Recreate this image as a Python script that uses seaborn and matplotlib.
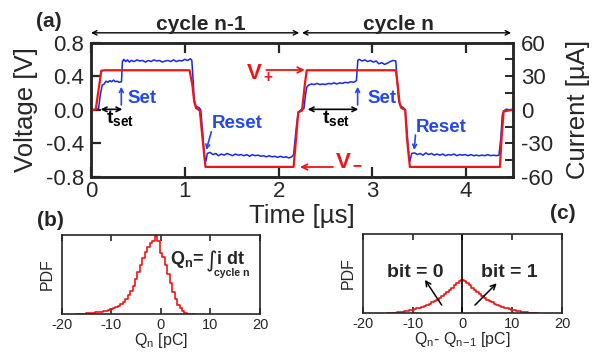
import numpy as np
import pandas as pd
import matplotlib
matplotlib.use('Agg')
import matplotlib.pyplot as plt
import seaborn as sns

# ---- panel (a): measured voltage (red, V) and current (blue, uA) vs time (us)
t_volt = [0.0, 0.05, 0.11, 0.15, 1.05, 1.08, 1.10, 1.12, 1.16, 1.19, 1.22,
          2.16, 2.19, 2.21, 2.25, 2.28, 2.30, 3.25, 3.27, 3.29, 3.31, 3.35,
          3.37, 3.40, 4.36, 4.38, 4.40, 4.50]
volt = [0.0, 0.0, 0.465, 0.47, 0.47, 0.30, 0.10, 0.02, -0.01, -0.35, -0.68,
        -0.68, -0.30, -0.03, -0.01, 0.30, 0.47, 0.47, 0.30, 0.08, 0.02, 0.0,
        -0.35, -0.68, -0.68, -0.30, -0.02, 0.0]

t_curr = [0.0, 0.03, 0.06, 0.08, 0.10, 0.12, 0.14, 0.16, 0.18, 0.20, 0.22,
          0.24, 0.26, 0.28, 0.30, 0.325, 0.335, 0.35, 0.37, 0.39, 0.41, 0.43,
          0.46, 0.49, 0.52, 0.55, 0.58, 0.61, 0.64, 0.67, 0.70, 0.73, 0.76,
          0.79, 0.82, 0.85, 0.88, 0.91, 0.94, 0.97, 1.00, 1.03, 1.06, 1.075,
          1.09, 1.10, 1.12, 1.15, 1.17, 1.19, 1.21, 1.225, 1.24, 1.27, 1.30,
          1.33, 1.36, 1.39, 1.42, 1.45, 1.48, 1.51, 1.54, 1.57, 1.60, 1.63,
          1.66, 1.69, 1.72, 1.75, 1.78, 1.81, 1.84, 1.87, 1.90, 1.93, 1.96,
          1.99, 2.02, 2.05, 2.08, 2.11, 2.14, 2.16, 2.19, 2.21, 2.24, 2.27,
          2.285, 2.30, 2.32, 2.35, 2.38, 2.41, 2.44, 2.47, 2.50, 2.53, 2.56,
          2.59, 2.62, 2.65, 2.68, 2.71, 2.74, 2.77, 2.80, 2.83, 2.845, 2.86,
          2.89, 2.92, 2.95, 2.98, 3.01, 3.04, 3.07, 3.10, 3.13, 3.16, 3.19,
          3.22, 3.25, 3.265, 3.28, 3.30, 3.33, 3.35, 3.37, 3.39, 3.40, 3.42,
          3.45, 3.48, 3.51, 3.54, 3.57, 3.60, 3.63, 3.66, 3.69, 3.72, 3.75,
          3.78, 3.81, 3.84, 3.87, 3.90, 3.93, 3.96, 3.99, 4.02, 4.05, 4.08,
          4.11, 4.14, 4.17, 4.20, 4.23, 4.26, 4.29, 4.32, 4.35, 4.37, 4.385,
          4.40, 4.43, 4.46, 4.50]
curr = [0.5, -0.5, 0.5, 1.0, 14, 22, 23, 25.5, 24.5, 26, 25,
        26.5, 25, 25.5, 24.5, 25, 43, 45, 43, 44.5, 42.5, 44,
        43, 44.5, 43.5, 44, 42.5, 44, 43, 44.5, 43.5, 44, 42.5,
        43.5, 44, 43, 44.5, 43, 44, 43.5, 45, 44, 45.5, 44,
        25, 9, 3, 2, 0, -20, -42, -46, -39, -38, -40,
        -39, -41, -39.5, -40.5, -39, -40, -41, -39.5, -40.5, -40, -41,
        -40, -41.5, -40, -41, -40.5, -41.5, -41, -42, -41, -42, -41.5,
        -42.5, -41.5, -42.5, -42, -43, -42, -40, -15, -2, 0, 1,
        12, 20, 22, 23, 22.5, 23.5, 22.5, 23, 22.5, 23.5, 23,
        24, 23, 24, 23.5, 24.5, 24, 25, 24.5, 26, 44, 45,
        43.5, 44.5, 43, 44, 42.5, 43.5, 41, 42, 40.5, 41.5, 43,
        44, 43.5, 25, 9, 3, 2, 0, -20, -42, -46, -39,
        -38.5, -40, -39, -40.5, -38.5, -40, -39, -40.5, -39.5, -40.5, -39.5,
        -41, -40, -40.5, -39.5, -41, -40, -40.5, -40, -41, -40, -41,
        -40.5, -41, -40.5, -41, -40, -41, -40.5, -41, -40.5, -25, -5,
        -1, 0.5, 0, 0.5]

# ---- panel (b): distribution of Q_n (relative PDF, bin centres in pC)
q_b = [-17.0, -16.5, -16.0, -15.5, -15.0, -14.5, -14.0, -13.5, -13.0, -12.5,
       -12.0, -11.5, -11.0, -10.5, -10.0, -9.5, -9.0, -8.5, -8.0, -7.5,
       -7.0, -6.5, -6.0, -5.5, -5.0, -4.5, -4.0, -3.5, -3.0, -2.5,
       -2.0, -1.5, -1.0, -0.5, 0.0, 0.5, 1.0, 1.5, 2.0, 2.5,
       3.0, 3.5, 4.0, 4.5, 5.0, 5.5, 6.0, 6.5]
pdf_b = [0.000, 0.002, 0.004, 0.006, 0.008, 0.010, 0.013, 0.016, 0.020, 0.025,
         0.030, 0.036, 0.042, 0.050, 0.058, 0.070, 0.085, 0.103, 0.125, 0.155,
         0.190, 0.235, 0.290, 0.360, 0.440, 0.530, 0.620, 0.710, 0.790, 0.850,
         0.900, 0.930, 0.985, 0.930, 0.770, 0.720, 0.620, 0.500, 0.390, 0.280,
         0.190, 0.120, 0.070, 0.035, 0.015, 0.006, 0.002, 0.000]

# ---- panel (c): distribution of Q_n - Q_(n-1)
q_c = [-15.0, -14.5, -14.0, -13.5, -13.0, -12.5, -12.0, -11.5, -11.0, -10.5,
       -10.0, -9.5, -9.0, -8.5, -8.0, -7.5, -7.0, -6.5, -6.0, -5.5,
       -5.0, -4.5, -4.0, -3.5, -3.0, -2.5, -2.0, -1.5, -1.0, -0.5,
       0.0, 0.5, 1.0, 1.5, 2.0, 2.5, 3.0, 3.5, 4.0, 4.5,
       5.0, 5.5, 6.0, 6.5, 7.0, 7.5, 8.0, 8.5, 9.0, 9.5,
       10.0, 10.5, 11.0, 11.5, 12.0, 12.5, 13.0, 13.5, 14.0, 14.5, 15.0]
pdf_c = [0.001, 0.002, 0.004, 0.006, 0.009, 0.012, 0.016, 0.021, 0.027, 0.033,
         0.040, 0.048, 0.057, 0.068, 0.080, 0.093, 0.105, 0.120, 0.135, 0.150,
         0.170, 0.190, 0.210, 0.240, 0.265, 0.295, 0.320, 0.350, 0.375, 0.400,
         0.420, 0.400, 0.375, 0.350, 0.320, 0.295, 0.265, 0.240, 0.210, 0.190,
         0.170, 0.150, 0.135, 0.120, 0.105, 0.093, 0.080, 0.068, 0.057, 0.048,
         0.040, 0.033, 0.027, 0.021, 0.016, 0.012, 0.009, 0.006, 0.004, 0.002, 0.001]

time_ticks = [0, 1, 2, 3, 4]
volt_ticks = [-0.8, -0.4, 0.0, 0.4, 0.8]
volt_labels = ['-0.8', '-0.4', '0.0', '0.4', '0.8']
curr_ticks = [-60, -30, 0, 30, 60]
q_ticks = [-20, -10, 0, 10, 20]

sns.set_style('ticks')
plt.rcParams['font.family'] = ['Liberation Sans', 'DejaVu Sans']
plt.rcParams['axes.unicode_minus'] = False
plt.rcParams['mathtext.fontset'] = 'custom'
plt.rcParams['mathtext.rm'] = 'Liberation Sans'
plt.rcParams['mathtext.it'] = 'Liberation Sans:italic'
plt.rcParams['mathtext.bf'] = 'Liberation Sans:bold'
plt.rcParams['mathtext.sf'] = 'Liberation Sans'

RED = '#f01414'
BLUE = '#1428f0'
TXTBLUE = '#2448e8'

fig = plt.figure(figsize=(5.98, 3.56), dpi=100)

# ---------------- panel (a)
ax = fig.add_axes([0.1522, 0.5028, 0.7057, 0.3778])
ax2 = ax.twinx()
ax.set_zorder(ax2.get_zorder() + 1)
ax.patch.set_visible(False)

sns.lineplot(x=t_curr, y=curr, ax=ax2, color=BLUE, lw=1.1, estimator=None, sort=False)
sns.lineplot(x=t_volt, y=volt, ax=ax, color=RED, lw=1.6, estimator=None, sort=False)

ax.set_xlim(0, 4.5)
ax.set_ylim(-0.8, 0.8)
ax2.set_ylim(-60, 60)
ax.set_xticks(time_ticks)
ax.set_yticks(volt_ticks)
ax.set_yticklabels(volt_labels)
ax2.set_yticks(curr_ticks)
ax2.set_yticks([-45, -15, 15, 45], minor=True)

for a in (ax, ax2):
    for s in a.spines.values():
        s.set_linewidth(1.8)
ax.tick_params(axis='both', direction='in', length=7, width=1.6, labelsize=16,
               top=True, pad=3)
ax.tick_params(axis='y', pad=5)
ax2.tick_params(axis='y', which='major', direction='in', length=6, width=1.4,
                labelsize=16, pad=6)
ax2.tick_params(axis='y', which='minor', direction='in', length=6, width=1.4)

ax.set_xlabel('Time [µs]', fontsize=18.5)
ax.xaxis.set_label_coords(0.5, -0.2)
ax.set_ylabel('Voltage [V]', fontsize=18.5)
ax.yaxis.set_label_coords(-0.125, 0.5)
ax2.set_ylabel('Current [µA]', fontsize=18.5)
ax2.yaxis.set_label_coords(1.125, 0.5)


def arrow(a, start, end, color, style='->', lw=1.2, ms=9, coords='data'):
    a.annotate('', xy=end, xytext=start, xycoords=coords, textcoords=coords,
               arrowprops=dict(arrowstyle=style, color=color, lw=lw,
                               shrinkA=0, shrinkB=0, mutation_scale=ms),
               annotation_clip=False)


# cycle markers
arrow(ax, (0.0, 0.915), (2.22, 0.915), 'black', '<->', lw=1.0, ms=8)
arrow(ax, (2.25, 0.915), (4.48, 0.915), 'black', '<->', lw=1.0, ms=8)
ax.text(1.17, 1.015, 'cycle n-1', ha='center', va='center', fontsize=15,
        fontweight='bold', clip_on=False)
ax.text(3.28, 1.015, 'cycle n', ha='center', va='center', fontsize=15,
        fontweight='bold', clip_on=False)

# V+ / V-
ax.text(1.65, 0.378, r'$\mathbf{V_+}$', color=RED, fontsize=16, va='baseline')
arrow(ax, (1.87, 0.473), (2.28, 0.473), RED, '->', lw=1.3, ms=10)
ax.text(2.60, -0.657, r'$\mathbf{V_-}$', color=RED, fontsize=16, va='baseline')
arrow(ax, (2.58, -0.681), (2.228, -0.681), RED, '->', lw=1.3, ms=10)

# Set / Reset / t_set, cycle n-1 and n
for t_arrow, t_txt in [(0.323, 0.394), (2.843, 2.95)]:
    arrow(ax, (t_arrow, 0.057), (t_arrow, 0.274), TXTBLUE, '->', lw=1.2, ms=7)
    ax.text(t_txt, 0.08, 'Set', color=TXTBLUE, fontsize=13.5,
            fontweight='bold', va='baseline')
for (t0, t1), t_txt in [((0.103, 0.334), 0.16), ((2.31, 2.85), 2.46)]:
    arrow(ax, (t0, 0.005), (t1, 0.005), 'black', '<->', lw=1.2, ms=8)
    ax.text(t_txt, -0.163, r'$\mathbf{t_{set}}$', color='black', fontsize=14,
            va='baseline')
for (t0, v0, t1, v1), (t_txt, v_txt) in [((1.283, -0.261, 1.229, -0.479), (1.283, -0.221)),
                                         ((3.46, -0.30, 3.446, -0.479), (3.461, -0.261))]:
    arrow(ax, (t0, v0), (t1, v1), TXTBLUE, '->', lw=1.2, ms=7)
    ax.text(t_txt, v_txt, 'Reset', color=TXTBLUE, fontsize=13.5,
            fontweight='bold', va='baseline')

fig.text(0.082, 0.94, '(a)', fontsize=15, fontweight='bold', ha='center', va='center')

# ---------------- panel (b)
df_b = pd.DataFrame({'q': q_b, 'pdf': pdf_b})
axb = fig.add_axes([0.1037, 0.118, 0.331, 0.2219])
sns.histplot(data=df_b, x='q', weights='pdf', binwidth=0.5,
             binrange=(q_b[0] - 0.25, q_b[-1] + 0.25), element='step',
             fill=False, color=RED, lw=1.2, ax=axb)
axb.set_xlim(-20, 20)
axb.set_ylim(0, 1.0)

# ---------------- panel (c)
df_c = pd.DataFrame({'q': q_c, 'pdf': pdf_c})
axc = fig.add_axes([0.607, 0.1208, 0.3328, 0.2219])
sns.histplot(data=df_c, x='q', weights='pdf', binwidth=0.5,
             binrange=(q_c[0] - 0.25, q_c[-1] + 0.25), element='step',
             fill=False, color=RED, lw=1.2, ax=axc)
axc.axvline(0, color='black', lw=1.2)
axc.set_xlim(-20, 20)
axc.set_ylim(0, 1.0)

for a in (axb, axc):
    a.set_xticks(q_ticks)
    a.set_yticks([])
    for s in a.spines.values():
        s.set_linewidth(1.2)
    a.tick_params(axis='x', direction='in', length=4, width=1.2, top=True,
                  labelsize=10.5, pad=3)
    a.set_ylabel('PDF', fontsize=11.5)
    a.yaxis.set_label_coords(-0.035, 0.5)

axb.set_xlabel(r'Q$_\mathrm{n}$ [pC]', fontsize=11.5)
axb.xaxis.set_label_coords(0.5, -0.22)
axc.set_xlabel(r'Q$_\mathrm{n}$- Q$_\mathrm{n\!-\!1}$ [pC]', fontsize=11.5)
axc.xaxis.set_label_coords(0.5, -0.22)

# Q_n = integral annotation
axb.text(0.548, 0.633, r'$\mathbf{Q_n}$=', transform=axb.transAxes, fontsize=13,
         fontweight='bold', va='baseline')
axb.text(0.728, 0.59, '∫', transform=axb.transAxes, fontsize=16,
         family='DejaVu Sans', va='baseline')
axb.text(0.785, 0.633, 'i dt', transform=axb.transAxes, fontsize=13,
         fontweight='bold', va='baseline')
axb.text(0.77, 0.48, 'cycle n', transform=axb.transAxes, fontsize=7.6,
         fontweight='bold', va='baseline')

# bit annotations
axc.text(-15.24, 0.46, 'bit = 0', transform=axc.get_xaxis_transform(),
         fontsize=14, fontweight='bold', va='baseline')
axc.text(3.66, 0.46, 'bit = 1', transform=axc.get_xaxis_transform(),
         fontsize=14, fontweight='bold', va='baseline')
for start, end in [((-4.18, 0.10), (-7.54, 0.42)), ((2.51, 0.10), (6.87, 0.376))]:
    axc.annotate('', xy=end, xytext=start,
                 xycoords=('data', 'axes fraction'), textcoords=('data', 'axes fraction'),
                 arrowprops=dict(arrowstyle='->', color='black', lw=1.1,
                                 shrinkA=0, shrinkB=0, mutation_scale=9))

fig.text(0.0836, 0.382, '(b)', fontsize=15, fontweight='bold', ha='center', va='center')
fig.text(0.9406, 0.399, '(c)', fontsize=15, fontweight='bold', ha='center', va='center')

fig.savefig('out.png', dpi=100)
